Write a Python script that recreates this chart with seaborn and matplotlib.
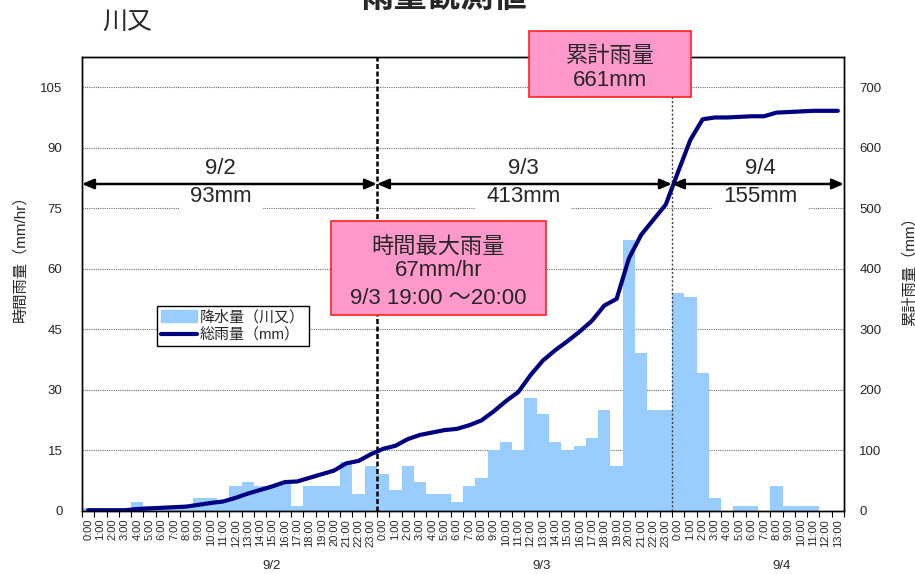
import matplotlib
matplotlib.use('Agg')
import matplotlib.pyplot as plt
import matplotlib.patches as mpatches
import matplotlib.lines as mlines
import matplotlib.transforms as mtransforms
import seaborn as sns
import pandas as pd
import numpy as np

# hourly labels (9/2 0:00 .. 9/4 13:00)
hours_day = ["0:00", "1:00", "2:00", "3:00", "4:00", "5:00", "6:00", "7:00",
             "8:00", "9:00", "10:00", "11:00", "12:00", "13:00", "14:00", "15:00",
             "16:00", "17:00", "18:00", "19:00", "20:00", "21:00", "22:00", "23:00"]
hour_labels = hours_day + hours_day + hours_day[:14]

# hourly rainfall (mm/hr)
rain_0902 = [0.5, 0, 0, 0, 2, 1, 1, 1, 1, 3, 3, 2.5, 6, 7, 6, 6, 7, 1, 6, 6, 6, 12, 4, 11]
rain_0903 = [9, 5, 11, 7, 4, 4, 2, 6, 8, 15, 17, 15, 28, 24, 17, 15, 16, 18, 25, 11, 67, 39, 25, 25]
rain_0904 = [54, 53, 34, 3, 0, 1, 1, 0, 6, 1, 1, 1, 0, 0]

# cumulative rainfall (mm)
total_0902 = [0.5, 0.5, 0.5, 0.5, 2.5, 3.5, 4.5, 5.5, 6.5, 9.5, 12.5, 15, 21, 28, 34, 40,
              47, 48, 54, 60, 66, 78, 82, 93]
total_0903 = [102, 107, 118, 125, 129, 133, 135, 141, 149, 164, 181, 196, 224, 248, 265,
              280, 296, 314, 339, 350, 417, 456, 481, 506]
total_0904 = [560, 613, 647, 650, 650, 651, 652, 652, 658, 659, 660, 661, 661, 661]

day_labels = ["9/2", "9/3", "9/4"]
day_totals = ["93mm", "413mm", "155mm"]

rain = rain_0902 + rain_0903 + rain_0904
total = total_0902 + total_0903 + total_0904
df = pd.DataFrame({"slot": range(len(rain)), "rain": rain, "total": total})

sns.set_style("white")
plt.rcParams['font.family'] = ['Liberation Sans', 'Noto Sans CJK JP']

fig, ax = plt.subplots(figsize=(9.15, 5.74), dpi=100)
fig.subplots_adjust(left=0.0896, right=0.9224, bottom=0.1106, top=0.9007)

sns.barplot(data=df, x="slot", y="rain", color="#99CCFF", width=1.0, saturation=1,
            linewidth=0, ax=ax)
ax.set_xlim(-0.5, len(rain) - 0.5)
ax.set_ylim(0, 112.5)
ax.set_yticks(range(0, 106, 15))
ax.set_xlabel("")
ax.set_ylabel("")
ax.set_xticks(range(len(rain)))
ax.set_xticklabels(hour_labels, rotation=90, fontsize=8)
ax.set_xticks(np.arange(-0.5, len(rain), 1), minor=True)
ax.tick_params(axis='x', which='major', length=0, pad=6)
ax.tick_params(axis='x', which='minor', bottom=True, length=4, width=0.8, color='black')
ax.tick_params(axis='y', length=0, pad=14, labelsize=9.5)
ax.yaxis.grid(True, color='#707070', linestyle=(0, (1, 1)), linewidth=0.8)
ax.set_axisbelow(True)

ax.axvline(23.5, color='black', linestyle=(0, (2, 1)), linewidth=1.8, zorder=3)
ax.axvline(47.5, color='#404040', linestyle=(0, (1.5, 1.5)), linewidth=1, zorder=3)

ax2 = ax.twinx()
sns.lineplot(data=df, x="slot", y="total", color="#000080", linewidth=3, ax=ax2, legend=False)
ax2.set_ylim(0, 750)
ax2.set_yticks(range(0, 701, 100))
ax2.set_ylabel("")
ax2.tick_params(axis='y', length=0, pad=11, labelsize=9.5)

for a in (ax, ax2):
    for s in a.spines.values():
        s.set_color('black')
        s.set_linewidth(1)

# day arrows and texts
spans = [(-0.5, 23.5), (23.5, 47.5), (47.5, len(rain) - 0.5)]
text_x = [10.8, 35.4, 54.7]
for (x0, x1), tx, dl, dt in zip(spans, text_x, day_labels, day_totals):
    ax2.annotate('', xy=(x1, 81), xytext=(x0, 81), xycoords=ax.transData,
                 textcoords=ax.transData, annotation_clip=False,
                 arrowprops=dict(arrowstyle='<|-|>,head_length=0.7,head_width=0.3',
                                 color='black', lw=1.8, shrinkA=0, shrinkB=0),
                 zorder=7)
    ax2.text(tx, 84.8, dl, transform=ax.transData, ha='center', va='center',
             fontsize=16, zorder=6)
    ax2.text(tx, 78.0, dt, transform=ax.transData, ha='center', va='center',
             fontsize=16, zorder=6,
             bbox=dict(boxstyle='square,pad=0.5', fc='white', ec='none'))

# date labels under the hour ticks
trans = mtransforms.blended_transform_factory(ax.transData, fig.transFigure)
for x, d in zip([14.95, 36.9, 56.4], day_labels):
    ax.text(x, 1 - 566 / 574, d, transform=trans, ha='center', va='center',
            fontsize=9.5, clip_on=False)

# legend
handles = [mpatches.Patch(color='#99CCFF', label='降水量（川又）'),
           mlines.Line2D([], [], color='#000080', lw=3, label='総雨量（mm）')]
leg = ax2.legend(handles=handles, loc='lower left',
                 bbox_to_anchor=(157 / 915, 1 - 346 / 574), bbox_transform=fig.transFigure,
                 fontsize=10.8, frameon=True, fancybox=False, edgecolor='black',
                 framealpha=1, borderpad=0.25, labelspacing=0.25, handlelength=2.4,
                 handleheight=0.9, handletextpad=0.2, borderaxespad=0)
leg.get_frame().set_linewidth(1)

# pink annotation boxes
W, H = 915, 574
box1 = mpatches.Rectangle((529 / W, 1 - 97 / H), 162 / W, 66 / H, transform=fig.transFigure,
                          fc='#FF99CC', ec='#FF2020', lw=1.2, zorder=10)
fig.add_artist(box1)
fig.text(610 / W, 1 - 56 / H, '累計雨量', ha='center', va='center', fontsize=16, zorder=11)
fig.text(610 / W, 1 - 80 / H, '661mm', ha='center', va='center', fontsize=16, zorder=11)

box2 = mpatches.Rectangle((331 / W, 1 - 315 / H), 215 / W, 94 / H, transform=fig.transFigure,
                          fc='#FF99CC', ec='#FF2020', lw=1.2, zorder=10)
fig.add_artist(box2)
fig.text(438.5 / W, 1 - 247 / H, '時間最大雨量', ha='center', va='center', fontsize=16, zorder=11)
fig.text(438.5 / W, 1 - 270 / H, '67mm/hr', ha='center', va='center', fontsize=16, zorder=11)
fig.text(438.5 / W, 1 - 298 / H, '9/3 19:00 ～20:00', ha='center', va='center', fontsize=16, zorder=11)

# titles and axis labels
fig.text(444 / W, 1 - 7 / H, '雨量観測値', ha='center', va='baseline', fontsize=24,
         fontweight='bold')
fig.text(102 / W, 1 - 22 / H, '川又', ha='left', va='center', fontsize=18)
fig.text(20 / W, 1 - 255 / H, '時間雨量（mm/hr）', rotation=90, ha='center', va='center',
         fontsize=11)
fig.text(909 / W, 1 - 268 / H, '累計雨量（mm）', rotation=90, ha='center', va='center',
         fontsize=11)

fig.savefig('out.png', dpi=100)
